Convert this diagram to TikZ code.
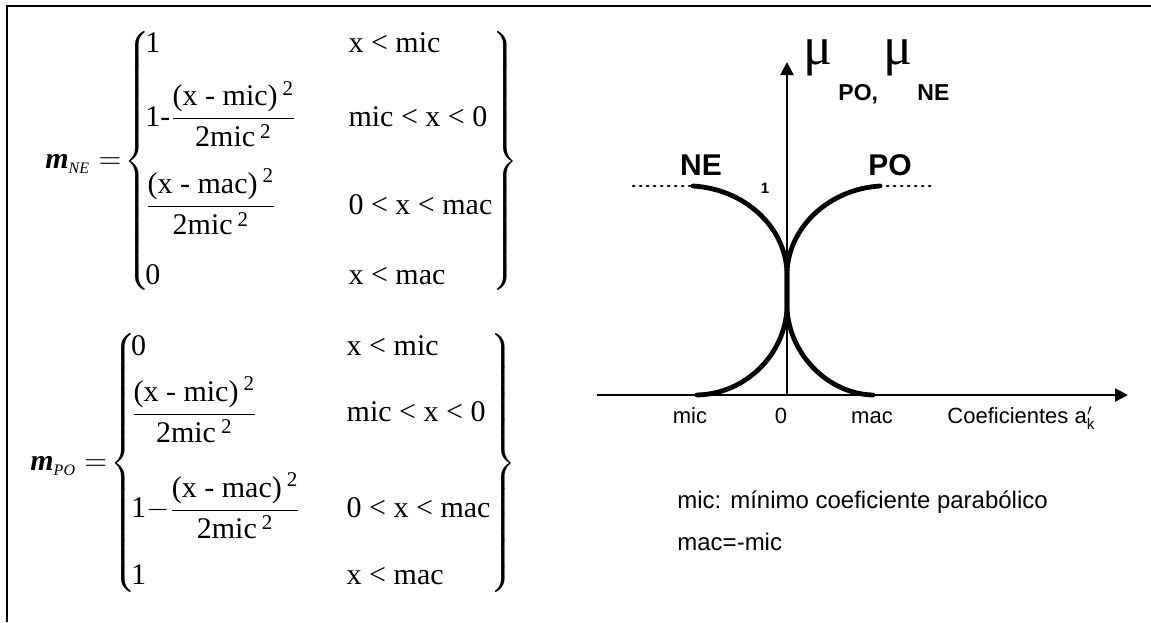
\RequirePackage{fix-cm}
\documentclass[tikz,border=0pt]{standalone}
\usepackage{amsmath}
\usepackage{fontspec}
\setmainfont{Liberation Serif}
\setsansfont{Liberation Sans}
\usetikzlibrary{arrows.meta}
\newcommand{\fr}[2]{\dfrac{\text{#1}\,{}^{\text{2}}}{\text{#2}\,{}^{\text{2}}}}
\newcommand{\subi}[1]{\text{\fontsize{8}{9}\selectfont\itshape #1}}
\tikzset{
  eqn/.style={inner sep=0pt,anchor=west,font=\fontsize{15}{18}\selectfont},
  lab/.style={inner sep=0pt,font=\sffamily\fontsize{11}{13}\selectfont},
  tag/.style={inner sep=0pt,font=\sffamily\bfseries\fontsize{15}{18}\selectfont},
  curva/.style={line width=2.4pt,line cap=round,line join=round},
  punt/.style={line width=1.3pt,dash pattern=on 0.6pt off 2.9pt,line cap=round},
  eje/.style={line width=1.1pt,-{Triangle[length=6.5pt,width=6.5pt]}}
}
\begin{document}
\begin{tikzpicture}[x=0.5pt,y=-0.5pt]
\useasboundingbox (0,0) rectangle (1151,622);
\draw[line width=1.4pt] (1151,6) -- (7,6) -- (7,622);
\node[eqn] (mne) at (45,161) {$\textbf{\textit{m}}_{\subi{NE}} = \!\left\{\!\begin{array}{@{}l@{\hspace{26pt}}l@{}}
  \text{1} & \text{x < mic}\\[9pt]
  \text{1-}\fr{(x - mic)}{2mic} & \text{mic < x < 0}\\[16pt]
  \fr{(x - mac)}{2mic} & \text{0 < x < mac}\\[17pt]
  \text{0} & \text{x < mac}
  \end{array}\right\}$};
\node[eqn] (mpo) at (30,463) {$\textbf{\textit{m}}_{\subi{PO}} = \!\left\{\!\begin{array}{@{}l@{\hspace{23pt}}l@{}}
  \text{0} & \text{x < mic}\\[5pt]
  \fr{(x - mic)}{2mic} & \text{mic < x < 0}\\[20pt]
  \text{1}\mathord{-}\fr{(x - mac)}{2mic} & \text{0 < x < mac}\\[15.5pt]
  \text{1} & \text{x < mac}
  \end{array}\right\}$};
\coordinate (o) at (787,395);
\coordinate (ytip) at (787,62);
\coordinate (xini) at (597,395);
\coordinate (xtip) at (1128,395);
\draw[eje] (xini) -- (xtip);
\draw[eje] (o) -- (ytip);
\draw[punt] (633,186) -- (693,186) (880,186) -- (935,186) (633,395) -- (697,395) (873,395) -- (935,395);
\draw[curva] (693,186) .. controls (744,189) and (785,226) .. (787,272) -- (787,308) .. controls (789,354) and (828,394) .. (873,395);
\draw[curva] (697,395) .. controls (746,394) and (785,354) .. (787,308) -- (787,272) .. controls (789,226) and (830,189) .. (880,186);
\node[tag] (ne) at (701,165) {NE};
\node[tag] (po) at (890,165) {PO};
\node[tag,font=\sffamily\bfseries\fontsize{7.5}{9}\selectfont] (uno) at (765,188) {1};
\node[inner sep=0pt,font=\fontsize{27}{30}\selectfont] (mu1) at (818,58) {μ};
\node[inner sep=0pt,font=\fontsize{27}{30}\selectfont] (mu2) at (898,58) {μ};
\node[tag,anchor=base west,font=\sffamily\bfseries\fontsize{11.5}{13}\selectfont] (spo) at (838,100) {PO,};
\node[tag,anchor=base west,font=\sffamily\bfseries\fontsize{11.5}{13}\selectfont] (sne) at (917,100) {NE};
\foreach \x/\lab in {690/mic,781/0,872/mac}
  \node[lab,anchor=base] (tick-\lab) at (\x,423) {\lab};
\node[lab,anchor=base west] (coef) at (947,423) {Coeficientes a$'_{\text{k}}$};
\node[lab,anchor=base west,font=\sffamily\fontsize{12}{14}\selectfont] (nota1) at (677,508) {mic: mínimo coeficiente parabólico};
\node[lab,anchor=base west,font=\sffamily\fontsize{12}{14}\selectfont] (nota2) at (677,550) {mac=-mic};
\end{tikzpicture}
\end{document}
